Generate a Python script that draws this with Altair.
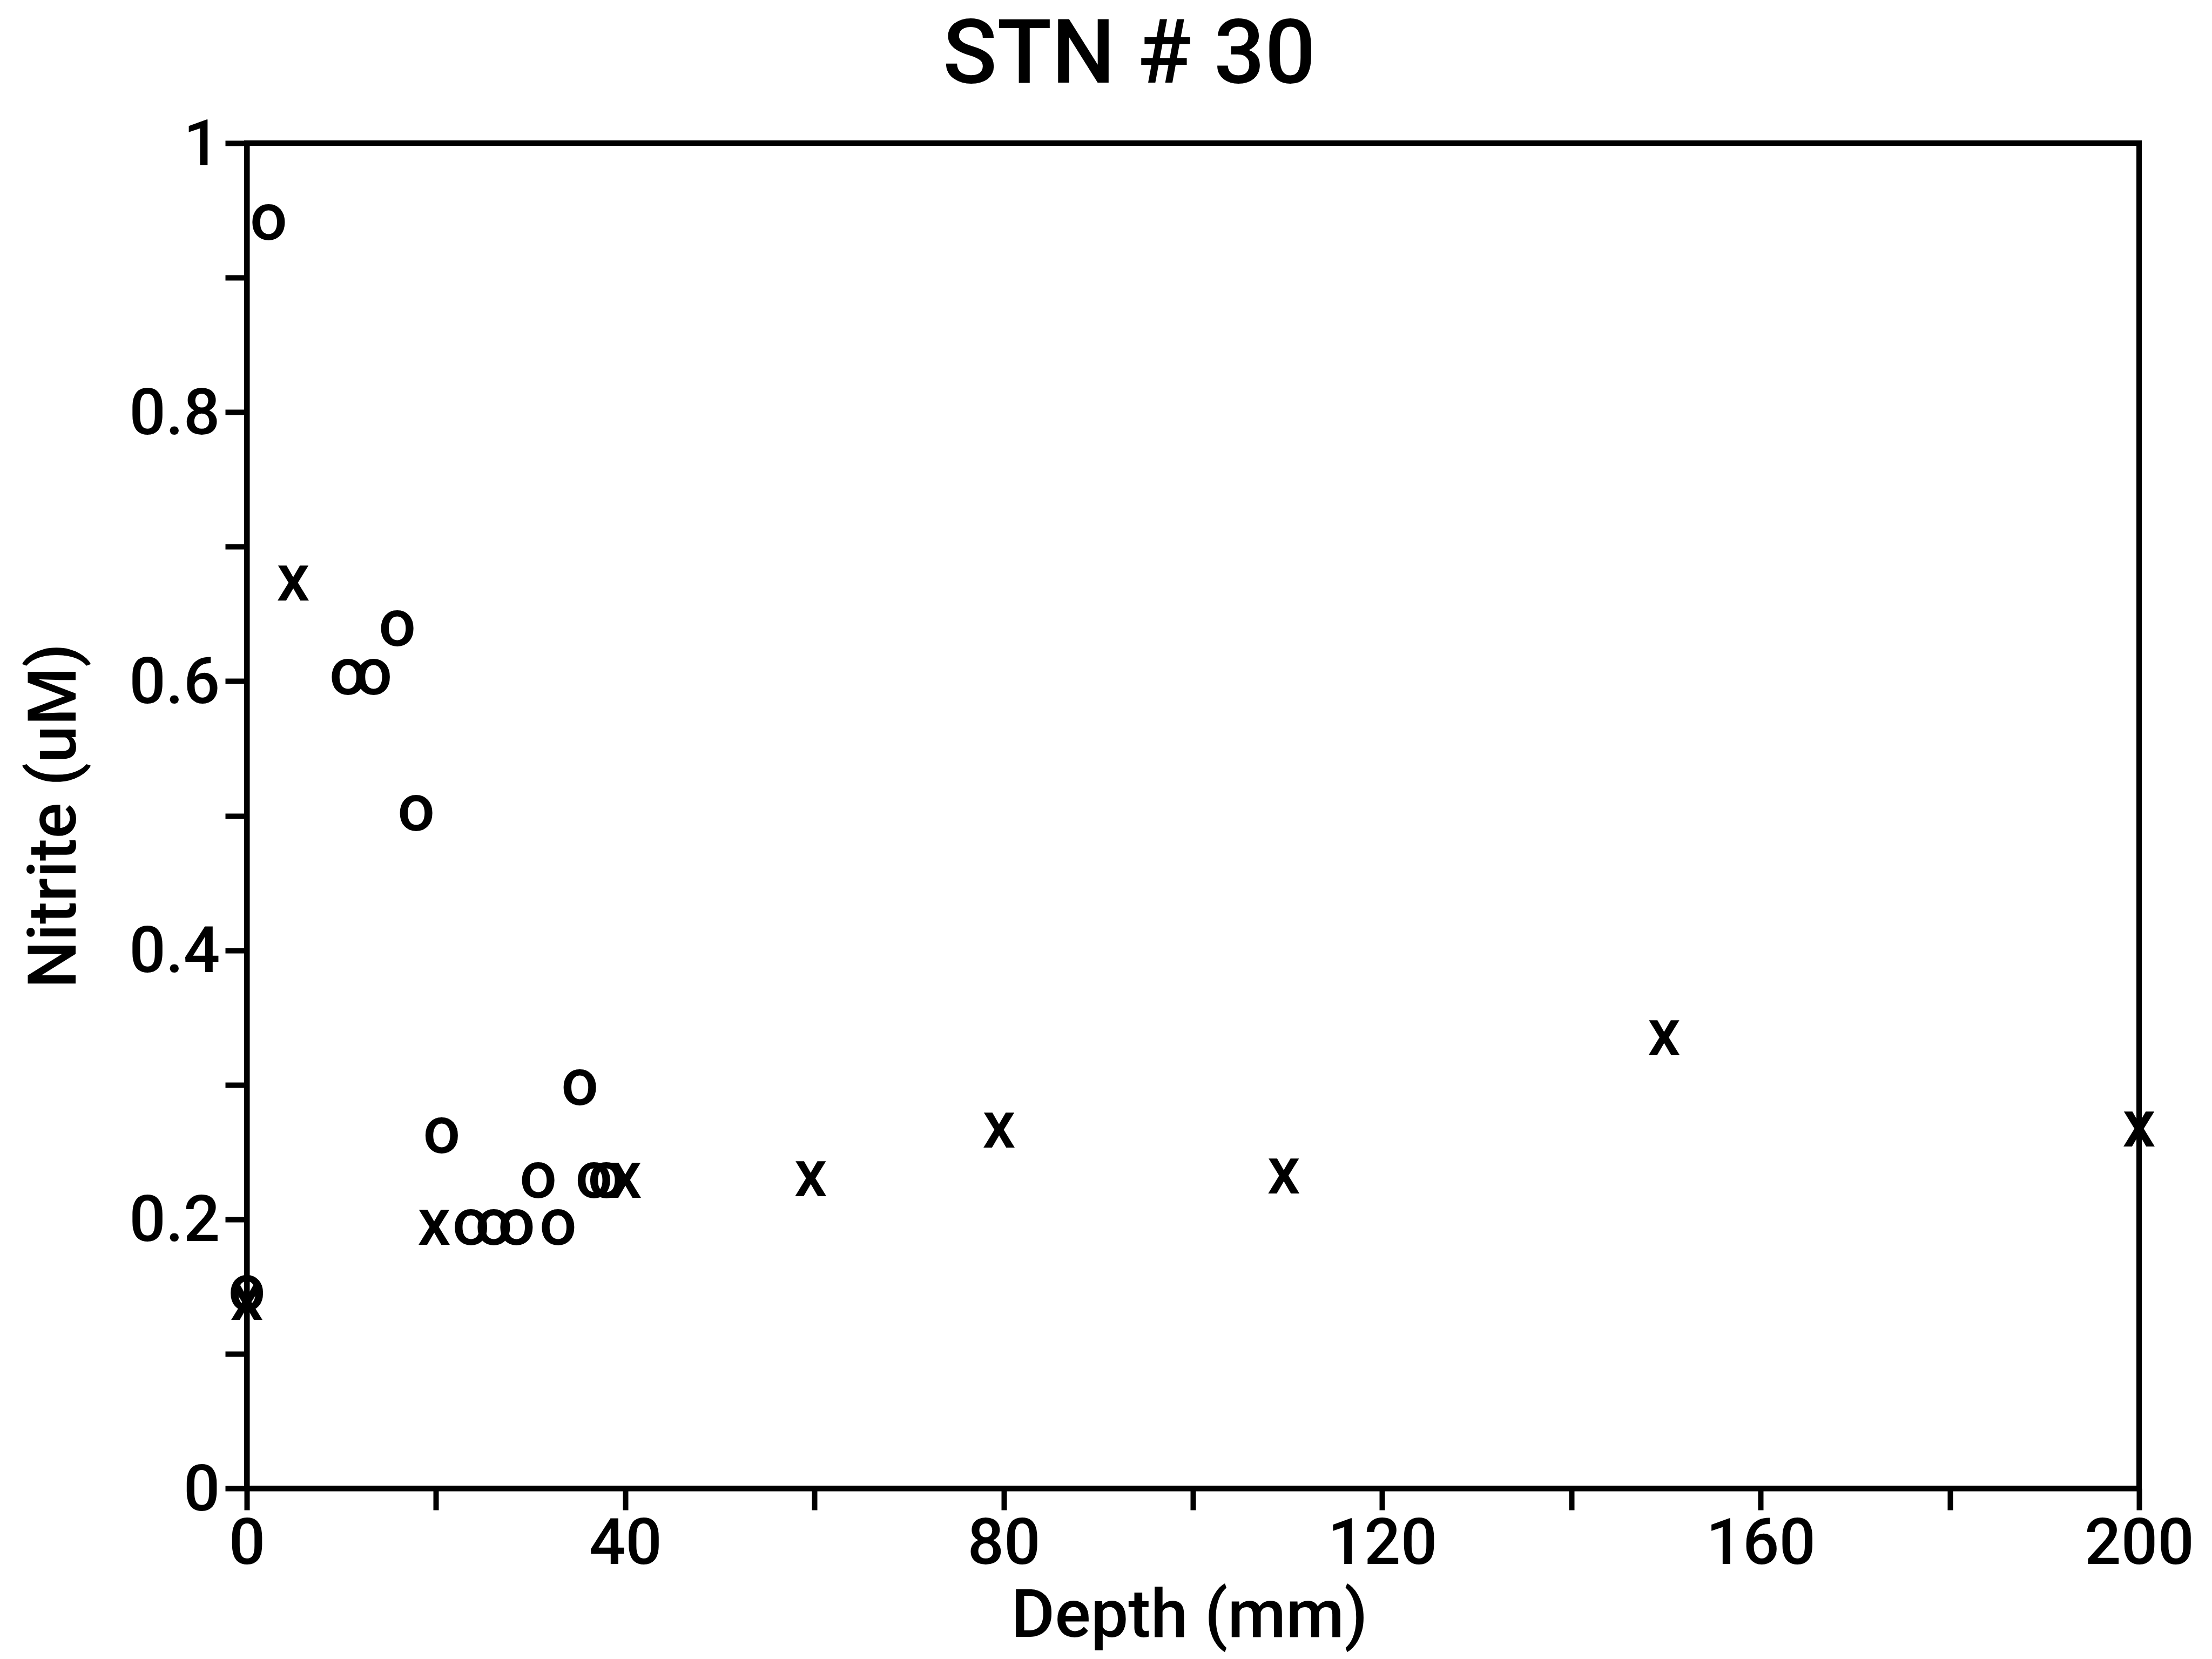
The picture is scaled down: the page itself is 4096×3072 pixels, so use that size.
import altair as alt
import pandas as pd

# ---- data ----
o_depth = [0.0, 2.3, 10.7, 13.4, 15.9, 17.9, 20.6, 23.7, 26.1, 28.5, 30.8, 32.9, 35.2, 36.7, 38.0]
o_nitrite = [0.145, 0.941, 0.603, 0.603, 0.639, 0.502, 0.262, 0.194, 0.194, 0.194, 0.229, 0.194, 0.298, 0.229, 0.229]

x_depth = [0.0, 4.9, 19.8, 40.0, 59.6, 79.5, 109.6, 149.8, 200.0]
x_nitrite = [0.138, 0.673, 0.194, 0.229, 0.230, 0.266, 0.232, 0.335, 0.267]

x_tick_values = [0, 20, 40, 60, 80, 100, 120, 140, 160, 180, 200]
y_tick_values = [0.0, 0.1, 0.2, 0.3, 0.4, 0.5, 0.6, 0.7, 0.8, 0.9, 1.0]

title_text = "STN # 30"
x_title = "Depth (mm)"
y_title = "Nitrite (uM)"

df = pd.DataFrame({
    "depth": o_depth + x_depth,
    "nitrite": o_nitrite + x_nitrite,
    "sym": ["o"] * len(o_depth) + ["x"] * len(x_depth),
})

FONT = "Roboto, Liberation Sans, Arial, sans-serif"
WEIGHT = 500
W, H = 3504, 2491

chart = (
    alt.Chart(df)
    .mark_text(font=FONT, fontSize=122, fontWeight=WEIGHT, align="center", baseline="middle",
               dy=-5, color="black")
    .encode(
        x=alt.X(
            "depth:Q",
            scale=alt.Scale(domain=[0, 200], nice=False, zero=False),
            axis=alt.Axis(
                values=x_tick_values,
                labelExpr="round(datum.value) % 40 == 0 ? format(datum.value, 'd') : ''",
                title=x_title,
                titleX=1745, titleY=274, titleAlign="center", titleBaseline="alphabetic",
                titleAngle=0,
                labelBaseline="alphabetic", labelPadding=99,
            ),
        ),
        y=alt.Y(
            "nitrite:Q",
            scale=alt.Scale(domain=[0, 1], nice=False, zero=False),
            axis=alt.Axis(
                values=y_tick_values,
                labelExpr="round(datum.value * 10) % 2 == 0 ? format(datum.value, '~g') : ''",
                title=y_title,
                titleX=-318, titleY=H / 2, titleAlign="center", titleBaseline="alphabetic",
                titleAngle=270,
                labelBaseline="middle", labelAlign="right", labelPadding=10, labelOffset=4,
            ),
        ),
        text="sym:N",
    )
    .properties(
        width=W,
        height=H,
        autosize="none",
        padding={"left": 457, "top": 265, "right": 135, "bottom": 316},
        title=alt.TitleParams(
            title_text, font=FONT, fontSize=166, fontWeight=WEIGHT, color="black",
            anchor="middle", frame="group", dx=-118, offset=22,
        ),
        background="white",
    )
    .configure_view(stroke="black", strokeWidth=10, fill="white")
    .configure_axis(
        grid=False,
        domainColor="black", domainWidth=10,
        tickColor="black", tickWidth=10, tickSize=40,
        labelFont=FONT, labelFontSize=119, labelFontWeight=WEIGHT, labelColor="black",
        labelFlush=False, labelOverlap=False, labelBound=False, labelLimit=0,
        titleFont=FONT, titleFontSize=124, titleFontWeight=WEIGHT, titleColor="black",
        titleLimit=0,
    )
)

chart.save("out.html", embed_options={"renderer": "svg", "actions": False})
